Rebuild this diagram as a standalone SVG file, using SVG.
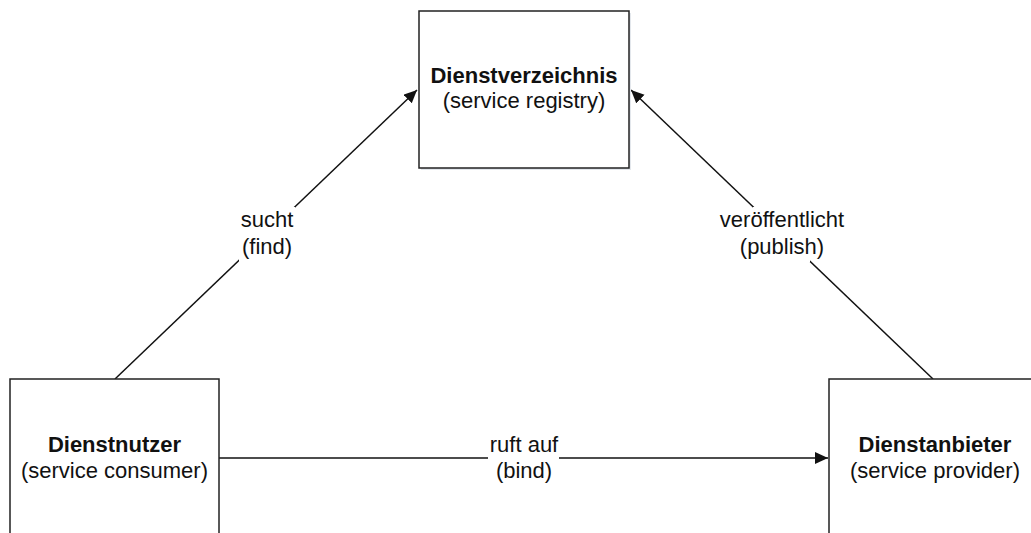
<svg xmlns="http://www.w3.org/2000/svg" width="1031" height="533" viewBox="0 0 1031 533">
  <style>
    .box { fill: #ffffff; stroke: #222222; stroke-width: 1.5; }
    .shadow { fill: #e3e7ec; stroke: none; }
    .t { font-family: "Liberation Sans", Arial, sans-serif; font-size: 22px; fill: #111111; text-anchor: middle; }
    .b { font-weight: bold; }
    .conn { stroke: #111111; stroke-width: 1.5; fill: none; }
    .lblbg { fill: #ffffff; stroke: none; }
  </style>
  <defs>
    <marker id="arrow" markerUnits="userSpaceOnUse" markerWidth="14" markerHeight="13" refX="13" refY="6" orient="auto">
      <path d="M0,0 L13,6 L0,12 Z" fill="#111111"/>
    </marker>
  </defs>
  <rect width="1031" height="533" fill="#ffffff"/>

  <g id="connectors">
    <line class="conn" x1="115" y1="379" x2="417" y2="90" marker-end="url(#arrow)"/>
    <rect class="lblbg" x="239" y="207" width="56" height="55"/>
    <text class="t" x="267" y="227">sucht</text>
    <text class="t" x="267" y="254">(find)</text>

    <line class="conn" x1="933" y1="379" x2="631" y2="90" marker-end="url(#arrow)"/>
    <rect class="lblbg" x="753" y="207" width="57" height="55"/>
    <text class="t" x="782" y="227">veröffentlicht</text>
    <text class="t" x="782" y="254">(publish)</text>

    <line class="conn" x1="219" y1="458" x2="828" y2="458" marker-end="url(#arrow)"/>
    <rect class="lblbg" x="488" y="436" width="71" height="48"/>
    <text class="t" x="524" y="452">ruft auf</text>
    <text class="t" x="524" y="478">(bind)</text>
  </g>

  <g id="registry">
    <rect class="shadow" x="421" y="13" width="210" height="157"/>
    <rect class="box" x="419" y="11" width="210" height="157"/>
    <text class="t b" x="524" y="83">Dienstverzeichnis</text>
    <text class="t" x="524" y="108">(service registry)</text>
  </g>

  <g id="consumer">
    <rect class="box" x="10" y="379" width="209" height="180"/>
    <text class="t b" x="114.5" y="452">Dienstnutzer</text>
    <text class="t" x="114.5" y="478">(service consumer)</text>
  </g>

  <g id="provider">
    <rect class="box" x="829" y="379" width="212" height="180"/>
    <text class="t b" x="935" y="452">Dienstanbieter</text>
    <text class="t" x="935" y="478">(service provider)</text>
  </g>
</svg>
